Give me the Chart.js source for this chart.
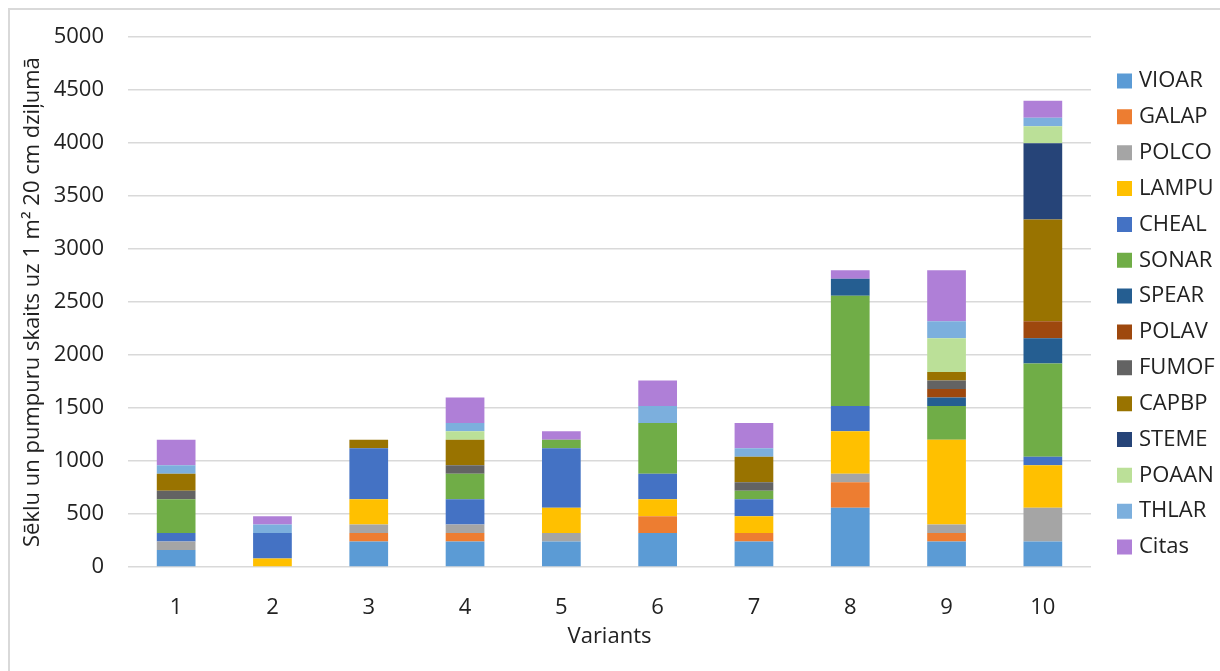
<!DOCTYPE html>
<html>
<head>
<meta charset="utf-8">
<script src="https://cdn.jsdelivr.net/npm/chart.js@4"></script>
<style>
  html, body { margin: 0; padding: 0; background: #ffffff; overflow: hidden; }
  #wrap { position: relative; width: 1220px; height: 671px; overflow: hidden; }
  #frame { position: absolute; left: 8px; top: 8px; width: 1400px; height: 900px;
           border: 2px solid #d9d9d9; box-sizing: border-box; }
  canvas { position: absolute; left: 0; top: 0; }
</style>
</head>
<body>
<div id="wrap">
  <div id="frame"></div>
  <canvas id="c" width="1220" height="671"></canvas>
</div>
<script>
// Variants on the x axis
const categories = ['1', '2', '3', '4', '5', '6', '7', '8', '9', '10'];

// Seeds and buds per 1 m² in 20 cm depth, by species
const VIOAR = [160, 0, 240, 240, 240, 320, 240, 560, 240, 240];
const GALAP = [0, 0, 80, 80, 0, 160, 80, 240, 80, 0];
const POLCO = [80, 0, 80, 80, 80, 0, 0, 80, 80, 320];
const LAMPU = [0, 80, 240, 0, 240, 160, 160, 400, 800, 400];
const CHEAL = [80, 240, 480, 240, 560, 240, 160, 240, 0, 80];
const SONAR = [320, 0, 0, 240, 80, 480, 80, 1040, 320, 880];
const SPEAR = [0, 0, 0, 0, 0, 0, 0, 160, 80, 240];
const POLAV = [0, 0, 0, 0, 0, 0, 0, 0, 80, 160];
const FUMOF = [80, 0, 0, 80, 0, 0, 80, 0, 80, 0];
const CAPBP = [160, 0, 80, 240, 0, 0, 240, 0, 80, 960];
const STEME = [0, 0, 0, 0, 0, 0, 0, 0, 0, 720];
const POAAN = [0, 0, 0, 80, 0, 0, 0, 0, 320, 160];
const THLAR = [80, 80, 0, 80, 0, 160, 80, 0, 160, 80];
const Citas = [240, 80, 0, 240, 80, 240, 240, 80, 480, 160];

const seriesNames = ['VIOAR', 'GALAP', 'POLCO', 'LAMPU', 'CHEAL', 'SONAR', 'SPEAR',
                     'POLAV', 'FUMOF', 'CAPBP', 'STEME', 'POAAN', 'THLAR', 'Citas'];
const seriesValues = [VIOAR, GALAP, POLCO, LAMPU, CHEAL, SONAR, SPEAR,
                      POLAV, FUMOF, CAPBP, STEME, POAAN, THLAR, Citas];
const seriesColors = ['#5B9BD5', '#ED7D31', '#A5A5A5', '#FFC000', '#4472C4', '#70AD47', '#255E91',
                      '#9E480E', '#636363', '#997300', '#264478', '#BBE098', '#7CAFDD', '#AF7FD7'];

// y axis ticks
const yMin = 0;
const yMax = 5000;
const yStep = 500;

const yTitle = 'Sēklu un pumpuru skaits uz 1 m² 20 cm dziļumā';
const xTitle = 'Variants';

const FONT = "'Open Sans', sans-serif";
const TEXT = '#222222';
const GRID = '#d9d9d9';

const datasets = seriesNames.map((name, i) => ({
  label: name,
  data: seriesValues[i],
  backgroundColor: seriesColors[i],
  borderWidth: 0,
  categoryPercentage: 0.402,
  barPercentage: 1.0
}));

new Chart(document.getElementById('c'), {
  type: 'bar',
  data: { labels: categories, datasets },
  options: {
    responsive: false,
    animation: false,
    devicePixelRatio: 1,
    layout: { padding: { left: 10, top: 34, right: 0, bottom: 10 } },
    plugins: {
      tooltip: { enabled: false },
      legend: {
        position: 'right',
        align: 'start',
        maxWidth: 112.85,
        title: { display: true, text: '', font: { size: 12 }, padding: { top: 7.75, bottom: 0 } },
        labels: {
          font: { family: FONT, size: 22 },
          color: TEXT,
          boxWidth: 7,
          boxHeight: 7,
          padding: 13.85,
          generateLabels(chart) {
            const items = Chart.defaults.plugins.legend.labels.generateLabels(chart);
            items.forEach(it => { it.lineWidth = 8; it.strokeStyle = it.fillStyle; });
            return items;
          }
        }
      }
    },
    scales: {
      x: {
        stacked: true,
        offset: true,
        grid: { display: false },
        border: { display: false },
        ticks: { font: { family: FONT, size: 22 }, color: TEXT, padding: 20 },
        title: { display: true, text: xTitle, font: { family: FONT, size: 22 }, color: TEXT,
                 padding: { top: 0, bottom: 10.8 } },
        afterFit(scale) { scale.height = 94; }
      },
      y: {
        stacked: true,
        min: yMin,
        max: yMax,
        grid: { color: GRID, lineWidth: 1.5, drawTicks: false },
        border: { display: false },
        ticks: { stepSize: yStep, font: { family: FONT, size: 22 }, color: TEXT, padding: 24,
                 callback: v => String(v) },
        title: { display: true, text: yTitle, font: { family: FONT, size: 22 }, color: TEXT,
                 padding: { top: 9.8, bottom: 0 } },
        afterFit(scale) { scale.width = 118; }
      },
      gap: {
        position: 'right',
        display: true,
        grid: { display: false },
        border: { display: false },
        ticks: { display: false },
        afterFit(scale) { scale.width = 16.15; }
      }
    }
  }
});
</script>
</body>
</html>
